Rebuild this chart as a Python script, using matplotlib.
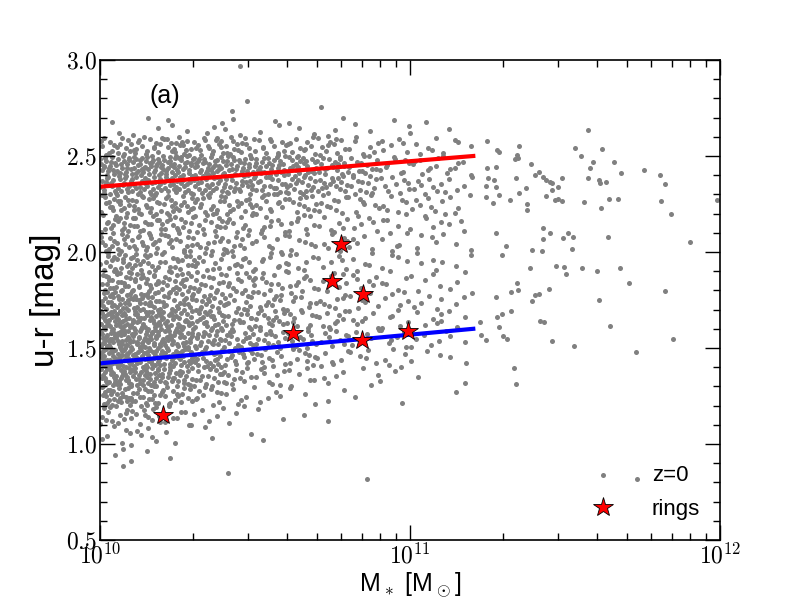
import numpy as np
import matplotlib
matplotlib.use('Agg')
import matplotlib.pyplot as plt
from matplotlib.ticker import FixedLocator, LogLocator, NullFormatter, FuncFormatter

plt.rcParams['font.family'] = ['Liberation Sans', 'DejaVu Sans']
plt.rcParams['mathtext.fontset'] = 'cm'

# --- galaxy cloud, read off the picture as counts per cell ---
# columns: log M from 10.0 to 11.2 in 0.1 dex steps
# rows: u-r cells, top edge from 3.0 down to 0.9 (0.1 mag tall)
col_edges = np.arange(10.0, 11.21, 0.1)
row_tops = np.round(np.arange(3.0, 0.85, -0.1), 2)
cell_counts = np.array([
    # c0 c1 c2 c3 c4 c5 c6 c7 c8 c9 c10 c11
    [0, 0, 0, 0, 1, 0, 0, 0, 0, 0, 0, 0],            # 2.9-3.0
    [0, 0, 0, 0, 0, 0, 0, 0, 0, 0, 0, 0],            # 2.8-2.9
    [0, 0, 0, 0, 2, 0, 0, 1, 0, 0, 0, 0],            # 2.7-2.8
    [2, 3, 3, 3, 3, 3, 3, 3, 2, 2, 2, 1],            # 2.6-2.7
    [16, 18, 18, 17, 15, 13, 12, 11, 8, 6, 5, 4],    # 2.5-2.6
    [32, 33, 32, 30, 27, 25, 22, 19, 13, 9, 8, 7],   # 2.4-2.5
    [26, 25, 25, 24, 22, 20, 18, 16, 12, 9, 7, 6],   # 2.3-2.4
    [19, 18, 17, 16, 14, 12, 11, 10, 8, 6, 6, 5],    # 2.2-2.3
    [17, 16, 15, 13, 10, 9, 8, 7, 6, 5, 5, 4],       # 2.1-2.2
    [17, 16, 14, 12, 10, 8, 7, 6, 5, 5, 4, 3],       # 2.0-2.1
    [19, 17, 15, 13, 10, 9, 7, 6, 5, 4, 4, 3],       # 1.9-2.0
    [23, 21, 18, 14, 12, 10, 8, 7, 6, 5, 4, 3],      # 1.8-1.9
    [29, 26, 22, 18, 14, 11, 9, 8, 6, 5, 5, 4],      # 1.7-1.8
    [38, 34, 28, 22, 17, 14, 11, 9, 7, 6, 5, 4],     # 1.6-1.7
    [42, 38, 31, 24, 18, 14, 11, 9, 7, 6, 5, 4],     # 1.5-1.6
    [42, 38, 30, 22, 16, 12, 9, 7, 5, 5, 3, 2],      # 1.4-1.5
    [36, 32, 24, 16, 11, 8, 6, 4, 3, 2, 1, 1],       # 1.3-1.4
    [26, 22, 15, 10, 6, 4, 3, 2, 1, 1, 0, 1],        # 1.2-1.3
    [14, 11, 7, 5, 3, 2, 1, 1, 0, 0, 0, 0],          # 1.1-1.2
    [6, 5, 3, 2, 1, 1, 0, 0, 0, 0, 0, 0],            # 1.0-1.1
    [3, 2, 1, 0, 0, 0, 0, 0, 0, 0, 0, 0],            # 0.9-1.0
    [1, 0, 0, 0, 1, 0, 0, 0, 1, 0, 0, 0],            # 0.8-0.9
])

# sparse high-mass galaxies, read one by one (log M, u-r)
sparse_logm = [11.249, 11.280, 11.287, 11.353, 11.346, 11.349, 11.340, 11.391, 11.417, 11.403,
               11.430, 11.438, 11.452, 11.458, 11.491, 11.477, 11.457, 11.532, 11.552, 11.575,
               11.619, 11.589, 11.582, 11.575, 11.611, 11.614, 11.633, 11.659, 11.682, 11.756,
               11.808, 11.824, 11.809, 11.843, 11.990, 11.642, 11.672, 11.616, 11.560, 11.491,
               11.477, 11.469, 11.439, 11.375, 11.353, 11.343, 11.323, 11.377, 11.378, 11.278,
               11.249, 11.252, 11.272, 11.276, 11.246, 11.269, 11.245, 11.288, 11.430, 11.452,
               11.511, 11.495, 11.525, 11.524, 11.428, 11.426, 11.393, 11.640, 11.904, 11.311,
               11.296, 11.278, 11.556, 11.472, 11.497, 11.503, 11.388, 11.603, 11.677, 11.706,
               11.824, 11.611, 11.449, 11.417, 11.403, 11.393, 11.349, 11.346, 11.325, 11.278,
               11.327, 11.297, 11.282, 11.419, 11.227, 11.229, 11.246, 11.288, 11.301, 11.313,
               11.431, 11.457, 11.530, 11.644, 11.730, 11.849, 11.337, 11.343, 11.733]
sparse_ur = [2.576, 2.531, 2.522, 2.552, 2.505, 2.488, 2.482, 2.456, 2.418, 2.401,
             2.392, 2.375, 2.366, 2.357, 2.384, 2.340, 2.323, 2.540, 2.500, 2.635,
             2.535, 2.467, 2.436, 2.384, 2.375, 2.357, 2.366, 2.467, 2.410, 2.427,
             2.401, 2.354, 2.264, 2.198, 2.269, 2.274, 2.274, 2.227, 2.259, 2.264,
             2.276, 2.271, 2.292, 2.333, 2.309, 2.385, 2.271, 2.248, 2.219, 2.444,
             2.436, 2.384, 2.375, 2.340, 2.344, 2.253, 2.288, 2.297, 2.123, 2.097,
             2.101, 2.071, 2.080, 2.014, 2.066, 2.007, 2.010, 2.076, 2.052, 2.031,
             1.984, 2.097, 1.915, 1.925, 1.920, 1.884, 1.915, 1.901, 1.915, 1.837,
             1.797, 1.750, 1.805, 1.779, 1.776, 1.745, 1.802, 1.837, 1.790, 1.764,
             1.693, 1.675, 1.660, 1.642, 1.634, 1.568, 1.540, 1.608, 1.563, 1.545,
             1.634, 1.535, 1.510, 1.613, 1.477, 1.545, 1.398, 1.313, 0.818]

# ring galaxies
ring_mass = [1.6e10, 4.2e10, 5.6e10, 6.0e10, 7.05e10, 7.0e10, 9.85e10]
ring_ur = [1.15, 1.58, 1.85, 2.04, 1.78, 1.54, 1.59]

# fitted sequences
fit_mass = [1e10, 1.6e11]
red_seq = [2.34, 2.50]
blue_seq = [1.42, 1.60]


def halton(i, b):
    f, r = 1.0, 0.0
    while i > 0:
        f /= b
        r += f * (i % b)
        i //= b
    return r


# spread each cell's count evenly inside that cell
logm, ur = [], []
k = 1
for ri, top in enumerate(row_tops):
    for ci in range(len(col_edges) - 1):
        for _ in range(cell_counts[ri, ci]):
            logm.append(col_edges[ci] + 0.1 * halton(k, 2))
            ur.append(top - 0.1 * halton(k, 3))
            k += 1
logm = np.array(logm + sparse_logm)
ur = np.array(ur + sparse_ur)

fig = plt.figure(figsize=(8, 6), dpi=100)
fig.subplots_adjust(left=0.125, right=0.9, bottom=0.1, top=0.9)
ax = fig.add_subplot(111)

ax.scatter(10**logm, ur, s=13, c='#808080', linewidths=0, label='z=0', zorder=1)
ax.plot(fit_mass, red_seq, color='red', lw=3, zorder=2)
ax.plot(fit_mass, blue_seq, color='blue', lw=3, zorder=2)
ax.plot(ring_mass, ring_ur, '*', color='red', mec='black', mew=0.6, ms=15,
        ls='none', label='rings', zorder=3)

ax.set_xscale('log')
ax.set_xlim(1e10, 1e12)
ax.set_ylim(0.5, 3.0)

ax.yaxis.set_major_locator(FixedLocator([0.5, 1.0, 1.5, 2.0, 2.5, 3.0]))
ax.yaxis.set_minor_locator(FixedLocator(np.arange(0.5, 3.01, 0.1)))
ax.yaxis.set_major_formatter(FuncFormatter(lambda v, p: r'$%.1f$' % v))
ax.xaxis.set_major_locator(LogLocator(base=10, numticks=5))
ax.xaxis.set_minor_locator(LogLocator(base=10, subs=np.arange(2, 10), numticks=20))
ax.xaxis.set_minor_formatter(NullFormatter())
ax.xaxis.set_major_formatter(FuncFormatter(lambda v, p: r'$10^{%d}$' % round(np.log10(v))))

ax.tick_params(which='both', direction='in', top=True, right=True, labelsize=17, width=1)
ax.tick_params(which='major', length=11, pad=2)
ax.tick_params(which='minor', length=5)
for sp in ax.spines.values():
    sp.set_linewidth(1.2)

ax.set_ylabel('u-r [mag]', fontsize=24, labelpad=4)
ax.set_xlabel(r'M$_*$ [M$_\odot$]', fontsize=18, labelpad=2)
ax.text(0.104, 0.925, '(a)', transform=ax.transAxes, fontsize=18, ha='center', va='center')

ax.legend(loc='lower right', frameon=False, fontsize=16, scatterpoints=1,
          handletextpad=1.2, borderaxespad=0.5, labelspacing=0.6)

plt.savefig('out.png', dpi=100)
